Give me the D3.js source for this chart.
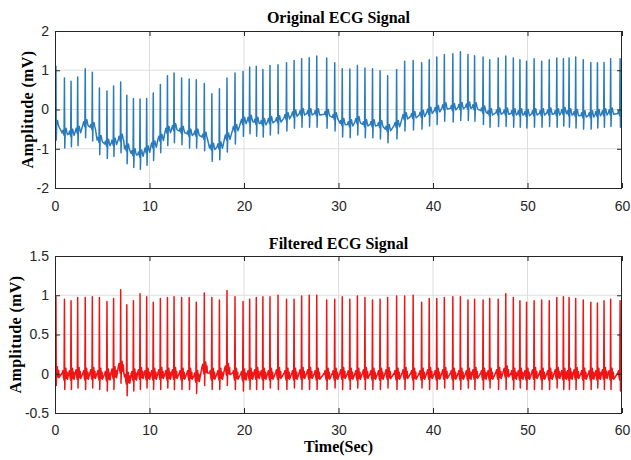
<!DOCTYPE html>
<html>
<head>
<meta charset="utf-8">
<script src="https://cdn.jsdelivr.net/npm/d3@7"></script>
<style>
body { margin: 0; background: #fff; }
svg { display: block; }
.tick text { font-family: "Liberation Sans", Arial, sans-serif; font-size: 14px; fill: #262626; }
.lbl { font-family: "Liberation Serif", "Times New Roman", serif; font-weight: bold; font-size: 16px; fill: #000; }
</style>
</head>
<body>
<div id="container"></div>
<script>
const width = 631
const height = 460

//-----------------------------DATA-----------------------------//
// R-peak times (sec)
const beatTimes = [
    0.1, 1.0, 1.7, 2.4, 3.2, 3.95, 4.7, 5.5, 6.2, 6.95,
    7.6, 8.3, 9.0, 9.7, 10.4, 11.15, 11.9, 12.6, 13.4, 14.2,
    14.95, 15.8, 16.6, 17.4, 18.2, 19.05, 19.9, 20.6, 21.3, 22.0,
    22.75, 23.6, 24.5, 25.3, 26.1, 26.9, 27.7,
    28.75, 29.6, 30.4, 31.2, 32.0, 32.8, 33.6, 34.4, 35.2, 36.15,
    37.0, 37.9, 38.8, 39.6, 40.4, 41.2, 42.1, 42.9, 43.7, 44.4,
    45.3, 46.0, 46.9, 47.7, 48.5, 49.2, 49.9, 50.7, 51.5, 52.3,
    53.1, 53.8, 54.4, 55.1, 55.9, 56.7, 57.4, 58.1, 58.8, 59.8
]

// original signal
const origPeaks = [
    1.1, 0.8, 0.72, 0.83, 1.04, 0.95, 0.55, 0.47, 0.6, 0.7,
    0.36, 0.28, 0.27, 0.28, 0.42, 0.64, 0.86, 0.93, 0.8, 0.78,
    0.76, 0.66, 0.4, 0.53, 0.8, 0.93, 0.97, 1.08, 1.1, 1.02,
    1.12, 1.14, 1.19, 1.25, 1.29, 1.32, 1.36,
    1.31, 1.19, 1.04, 1.03, 1.12, 1.06, 1.04, 0.99, 0.86, 1.02,
    1.23, 1.25, 1.19, 1.27, 1.34, 1.4, 1.42, 1.47, 1.4, 1.37,
    1.34, 1.27, 1.31, 1.36, 1.31, 1.27, 1.23, 1.29, 1.23, 1.27,
    1.31, 1.29, 1.31, 1.34, 1.27, 1.2, 1.19, 1.2, 1.29, 1.29
]
const origTroughs = [
    -0.78, -0.98, -0.95, -0.92, -0.72, -0.8, -1.15, -1.25, -1.2, -1.1,
    -1.38, -1.48, -1.52, -1.42, -1.3, -1.1, -0.92, -0.85, -0.9, -0.98,
    -0.98, -1.05, -1.32, -1.28, -1.08, -0.88, -0.68, -0.62, -0.68, -0.7,
    -0.65, -0.62, -0.55, -0.48, -0.45, -0.45, -0.45,
    -0.48, -0.55, -0.7, -0.72, -0.65, -0.72, -0.72, -0.75, -0.85, -0.75,
    -0.55, -0.52, -0.5, -0.42, -0.38, -0.3, -0.32, -0.28, -0.28, -0.3,
    -0.38, -0.45, -0.43, -0.43, -0.45, -0.45, -0.47, -0.45, -0.45, -0.43,
    -0.45, -0.42, -0.45, -0.47, -0.5, -0.5, -0.47, -0.45, -0.43, -0.45
]
const origBase = [
    -0.4, -0.6, -0.62, -0.55, -0.38, -0.45, -0.78, -0.88, -0.85, -0.75,
    -1.0, -1.12, -1.15, -1.05, -0.92, -0.75, -0.55, -0.48, -0.55, -0.62,
    -0.62, -0.7, -0.98, -0.95, -0.72, -0.5, -0.32, -0.27, -0.32, -0.35,
    -0.3, -0.28, -0.2, -0.13, -0.1, -0.1, -0.1,
    -0.12, -0.2, -0.35, -0.38, -0.3, -0.38, -0.38, -0.4, -0.5, -0.4,
    -0.2, -0.17, -0.14, -0.06, -0.02, 0.05, 0.03, 0.06, 0.07, 0.05,
    -0.03, -0.1, -0.08, -0.08, -0.1, -0.1, -0.12, -0.1, -0.1, -0.08,
    -0.1, -0.07, -0.1, -0.12, -0.15, -0.15, -0.12, -0.1, -0.08, -0.1
]

// filtered signal
const filtPeaks = [
    0.98, 0.95, 0.93, 0.97, 0.97, 0.98, 0.97, 0.92, 0.96, 1.07,
    0.88, 0.93, 1.02, 0.98, 0.91, 0.96, 0.97, 0.98, 0.97, 0.97,
    0.91, 1.03, 0.97, 0.94, 1.06, 0.98, 0.92, 0.95, 0.97, 0.98,
    0.98, 1.0, 0.95, 0.95, 0.99, 1.0, 1.0,
    0.94, 0.95, 0.98, 0.95, 0.99, 0.97, 0.94, 0.95, 0.97, 0.99,
    0.99, 1.0, 0.91, 0.96, 0.96, 0.97, 0.98, 0.98, 0.94, 0.95,
    0.94, 0.96, 0.95, 1.02, 0.97, 0.93, 0.91, 0.93, 0.94, 0.93,
    0.97, 0.98, 0.97, 0.96, 0.94, 0.91, 0.9, 0.93, 0.95, 0.93
]
const filtTroughs = [
    -0.15, -0.2, -0.2, -0.18, -0.2, -0.18, -0.2, -0.22, -0.2, -0.12,
    -0.28, -0.22, -0.2, -0.18, -0.2, -0.2, -0.18, -0.2, -0.2, -0.2,
    -0.25, -0.15, -0.2, -0.2, -0.15, -0.2, -0.22, -0.2, -0.2, -0.2,
    -0.18, -0.2, -0.2, -0.18, -0.2, -0.2, -0.2,
    -0.2, -0.18, -0.2, -0.2, -0.18, -0.2, -0.2, -0.2, -0.18, -0.2,
    -0.2, -0.2, -0.18, -0.2, -0.2, -0.18, -0.2, -0.2, -0.18, -0.2,
    -0.2, -0.18, -0.2, -0.2, -0.2, -0.18, -0.2, -0.2, -0.2, -0.2,
    -0.18, -0.2, -0.2, -0.2, -0.2, -0.2, -0.18, -0.2, -0.2, -0.22
]
const filtBase = [
    0.0, -0.02, -0.02, -0.01, -0.02, -0.01, -0.02, -0.03, 0.0, 0.07,
    -0.07, -0.03, -0.01, -0.02, -0.02, -0.01, -0.02, -0.01, -0.02, -0.02,
    -0.05, 0.06, -0.02, -0.02, 0.04, -0.02, -0.03, -0.02, -0.01, -0.02,
    -0.02, -0.01, -0.02, -0.02, -0.01, -0.01, -0.02,
    -0.02, -0.02, -0.01, -0.02, -0.02, -0.01, -0.02, -0.02, -0.01, -0.02,
    -0.01, -0.02, -0.02, -0.01, -0.02, -0.01, -0.02, -0.02, -0.02, -0.01,
    -0.02, -0.02, -0.01, 0.01, -0.02, -0.02, -0.02, -0.01, -0.02, -0.02,
    -0.01, -0.02, -0.02, -0.01, -0.02, -0.02, -0.02, -0.01, -0.02, -0.02
]

// tick labels
const xTicks = [0, 10, 20, 30, 40, 50, 60]
const origYTicks = [-2, -1, 0, 1, 2]
const filtYTicks = [-0.5, 0, 0.5, 1, 1.5]

// one heartbeat drawn as P, Q, R, S, T around each R-peak time
const origShape = [
    {dt: -0.24, dv: 0}, {dt: -0.17, dv: 0.07}, {dt: -0.1, dv: 0}, {dt: -0.04, dv: -0.06},
    {dt: 0, k: 'peak'}, {dt: 0.035, k: 'trough'}, {dt: 0.08, dv: 0.03},
    {dt: 0.17, dv: 0.12}, {dt: 0.25, dv: 0.02}, {dt: 0.32, dv: -0.04}
]
const filtShape = [
    {dt: -0.24, dv: 0.03}, {dt: -0.17, dv: 0.06}, {dt: -0.1, dv: -0.03}, {dt: -0.04, dv: -0.06},
    {dt: 0, k: 'peak'}, {dt: 0.035, k: 'trough'}, {dt: 0.08, dv: 0.04},
    {dt: 0.15, dv: 0.09}, {dt: 0.22, dv: -0.04}, {dt: 0.28, dv: 0.04}, {dt: 0.32, dv: -0.05}
]

const svg = d3.select('div#container').append('svg')
    .attr('width', width)
    .attr('height', height)

const xScale = d3.scaleLinear().domain([0, 60]).range([55, 622])

const beatPoints = (peaks, troughs, base, shape) => {
    const pts = []
    beatTimes.forEach((t, i) => {
        shape.forEach(s => {
            let v = base[i] + (s.dv || 0)
            if (s.k === 'peak') v = peaks[i]
            if (s.k === 'trough') v = troughs[i]
            pts.push({date: t + s.dt, measurement: v})
        })
    })
    return pts
}

const drawPanel = p => {
    const yScale = d3.scaleLinear().domain(p.yDomain).range([p.bottom, p.top])
    const g = svg.append('g')
    const x0 = xScale.range()[0], x1 = xScale.range()[1]

    // grid
    g.append('g').selectAll('line').data(xTicks.slice(1, -1)).enter().append('line')
        .attr('x1', d => xScale(d)).attr('x2', d => xScale(d))
        .attr('y1', p.top).attr('y2', p.bottom)
        .attr('stroke', '#dedede').attr('stroke-width', 1)
    g.append('g').selectAll('line').data(p.yTicks.slice(1, -1)).enter().append('line')
        .attr('x1', x0).attr('x2', x1)
        .attr('y1', d => yScale(d)).attr('y2', d => yScale(d))
        .attr('stroke', '#dedede').attr('stroke-width', 1)

    // signal
    const clipId = 'clip-' + p.id
    svg.append('clipPath').attr('id', clipId).append('rect')
        .attr('x', x0).attr('y', p.top).attr('width', x1 - x0).attr('height', p.bottom - p.top)
    const line = d3.line()
        .x(d => xScale(d.date))
        .y(d => yScale(d.measurement))
    g.append('path')
        .attr('clip-path', `url(#${clipId})`)
        .attr('d', line(p.points))
        .attr('fill', 'none')
        .attr('stroke', p.color)
        .attr('stroke-width', 1.5)
        .attr('stroke-linejoin', 'round')

    // axes (ticks inside, MATLAB style)
    const fmt = d => String(d)
    g.append('g').attr('transform', `translate(0,${p.bottom})`)
        .call(d3.axisBottom(xScale).tickValues(xTicks).tickSize(-5).tickPadding(p.xPad).tickFormat(fmt))
    g.append('g').attr('transform', `translate(0,${p.top})`)
        .call(d3.axisTop(xScale).tickValues(xTicks).tickSize(-5).tickFormat(''))
    g.append('g').attr('transform', `translate(${x0},0)`)
        .call(d3.axisLeft(yScale).tickValues(p.yTicks).tickSize(-5).tickPadding(6).tickFormat(fmt))
    g.append('g').attr('transform', `translate(${x1},0)`)
        .call(d3.axisRight(yScale).tickValues(p.yTicks).tickSize(-5).tickFormat(''))
    g.selectAll('.domain').remove()
    g.selectAll('.tick line').attr('stroke', '#262626')

    g.append('rect')
        .attr('x', x0 + 0.5).attr('y', p.top + 0.5)
        .attr('width', x1 - x0 - 1).attr('height', p.bottom - p.top)
        .attr('fill', 'none').attr('stroke', '#262626').attr('stroke-width', 1)

    // labels
    g.append('text').attr('class', 'lbl')
        .attr('x', (x0 + x1) / 2).attr('y', p.titleY)
        .attr('text-anchor', 'middle')
        .text(p.title)
    g.append('text').attr('class', 'lbl')
        .attr('transform', `translate(${p.ylabX},${(p.top + p.bottom) / 2}) rotate(-90)`)
        .attr('text-anchor', 'middle')
        .attr('letter-spacing', 0.4)
        .text('Amplitude (mV)')
}

drawPanel({
    id: 'orig', top: 31, bottom: 188, yDomain: [-2, 2], yTicks: origYTicks,
    points: beatPoints(origPeaks, origTroughs, origBase, origShape),
    color: '#2a7bbb', title: 'Original ECG Signal', titleY: 23, ylabX: 33, xPad: 13
})

drawPanel({
    id: 'filt', top: 256, bottom: 413, yDomain: [-0.5, 1.5], yTicks: filtYTicks,
    points: beatPoints(filtPeaks, filtTroughs, filtBase, filtShape),
    color: '#f01414', title: 'Filtered ECG Signal', titleY: 249, ylabX: 21, xPad: 12
})

svg.append('text').attr('class', 'lbl')
    .attr('x', 338.5).attr('y', 452)
    .attr('text-anchor', 'middle')
    .text('Time(Sec)')
</script>
</body>
</html>
